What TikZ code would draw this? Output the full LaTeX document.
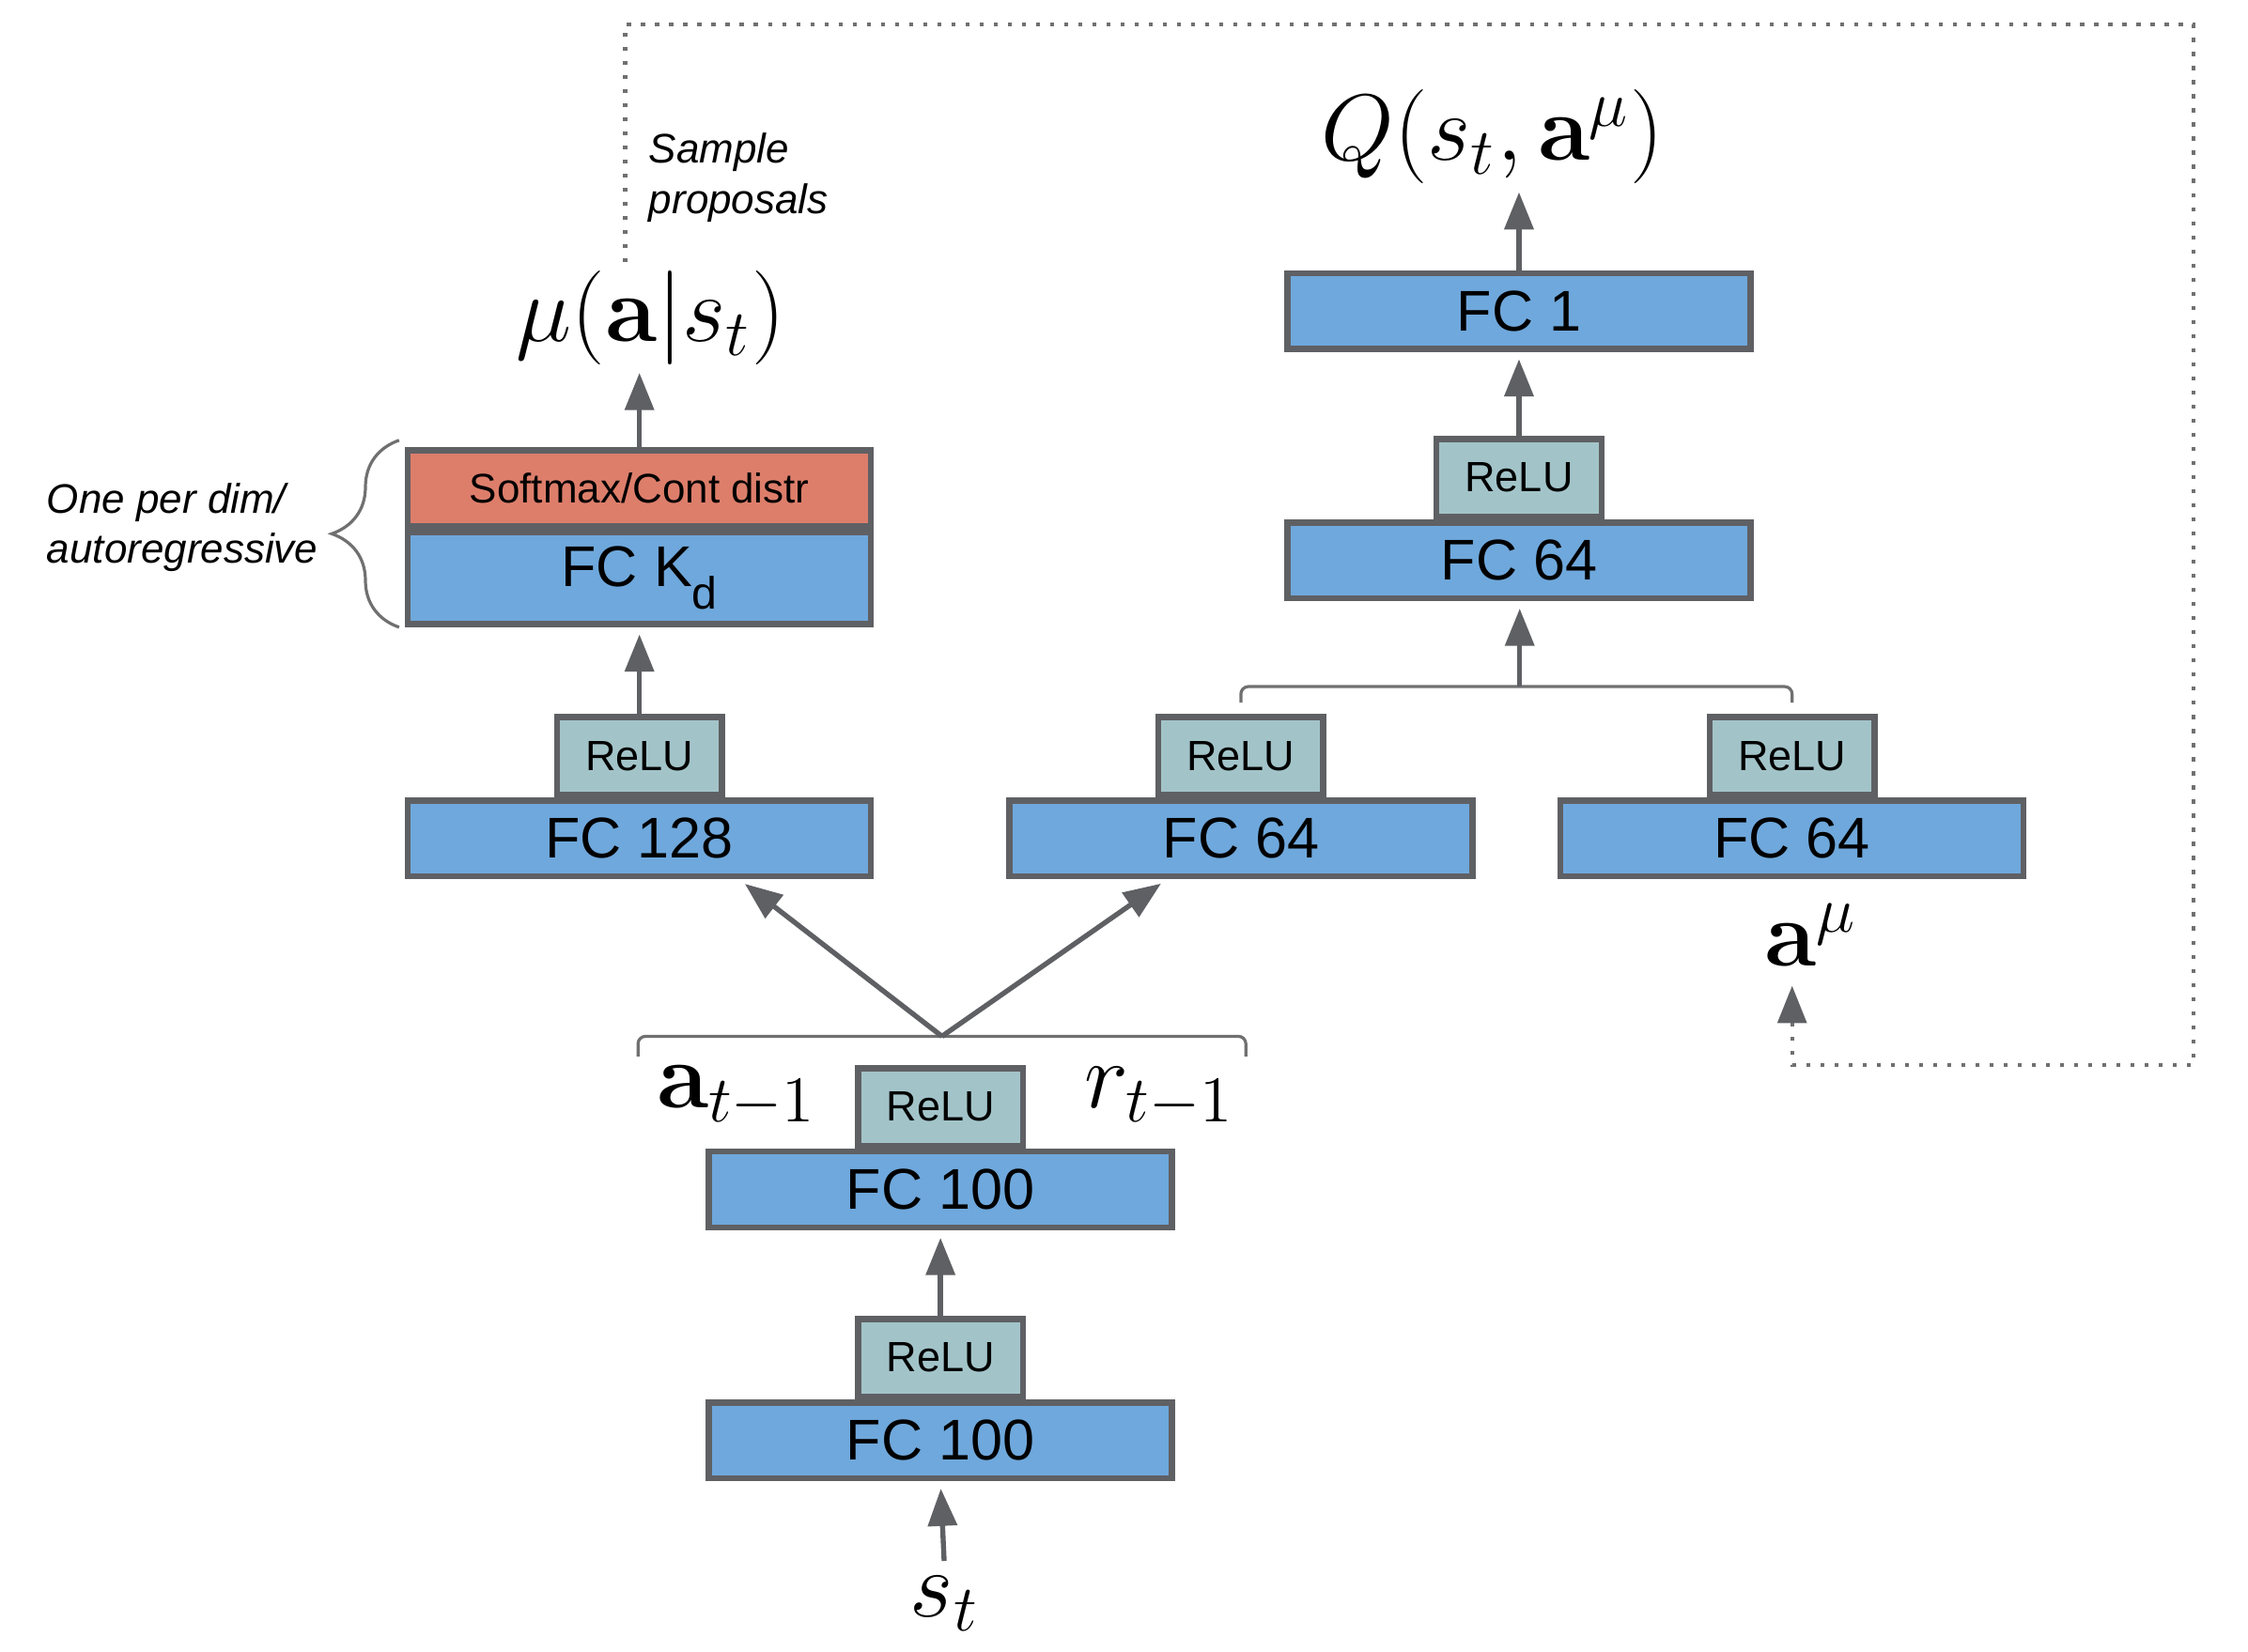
\documentclass[tikz,border=0pt]{standalone}
\usepackage{amsmath}
\usepackage[no-math]{fontspec}
\setmainfont{Liberation Sans}
\usetikzlibrary{arrows.meta,positioning,decorations.pathreplacing}

\definecolor{layerblue}{HTML}{6FA8DC}
\definecolor{softred}{HTML}{DD7E6B}
\definecolor{relugreen}{HTML}{A2C4C9}
\definecolor{edgegray}{HTML}{5F6064}
\definecolor{linegray}{HTML}{707070}

\begin{document}
\begin{tikzpicture}[
        layer/.style={
            draw=edgegray,
            fill=layerblue,
            line width=1.2pt,
            minimum width=3.23cm,
            minimum height=0.53cm,
            inner sep=0pt,
            font=\fontsize{11.4}{13}\selectfont
        },
        relu/.style={
            layer,
            fill=relugreen,
            minimum width=1.15cm,
            minimum height=0.54cm,
            font=\fontsize{8.4}{10}\selectfont
        },
        distr/.style={
            layer,
            fill=softred,
            minimum height=0.53cm,
            font=\fontsize{8.2}{10}\selectfont
        },
        var/.style={inner sep=0pt, scale=1.08,
            font=\fontsize{17.28}{20}\selectfont},
        note/.style={inner sep=0pt, align=left,
            font=\fontsize{8.2}{10}\selectfont\itshape},
        flow/.style={-{Triangle[length=2.6mm, width=2mm]}, line width=1pt,
            draw=edgegray, shorten >=0.5mm},
        bracket/.style={draw=linegray, line width=0.6pt, rounded corners=1.5pt},
        curly/.style={draw=linegray, line width=0.6pt, decorate,
            decoration={brace, amplitude=4.7mm}},
        feedback/.style={draw=linegray, line width=0.8pt, dotted,
            -{Triangle[length=2.6mm, width=2mm, color=edgegray]},
            shorten >=1.3mm}
    ]
        \useasboundingbox (0,0) rectangle (15.68,-11.52);

        % Shared state encoder
        \node[layer] (fc100a) at (6.56,-10.05) {FC 100};
        \node[relu, above=0pt of fc100a] (relu100a) {ReLU};
        \node[layer] (fc100b) at (6.56,-8.30) {FC 100};
        \node[relu, above=0pt of fc100b] (relu100b) {ReLU};
        \node[var, anchor=base] (st) at (6.59,-11.28) {$s_t$};
        \node[var, anchor=base] (aprev) at (5.14,-7.73) {$\mathbf{a}_{t-1}$};
        \node[var, anchor=base] (rprev) at (8.09,-7.73) {$r_{t-1}$};
        \coordinate (fork) at (6.57,-7.23);

        % Policy head
        \node[layer] (fc128) at (4.46,-5.85) {FC 128};
        \node[relu, above=0pt of fc128] (relu128) {ReLU};
        \node[layer, minimum height=0.64cm] (fckd) at (4.46,-4.035)
            {FC K\raisebox{-4.5pt}{\fontsize{9}{9}\selectfont d}};
        \node[distr, above=0pt of fckd] (softmax) {Softmax/Cont distr};
        \node[var, anchor=base] (mulabel) at (4.54,-2.38)
            {$\mu(\mathbf{a}|s_t)$};

        % Value head
        \node[layer] (fc64a) at (8.655,-5.85) {FC 64};
        \node[relu, above=0pt of fc64a] (relu64a) {ReLU};
        \node[layer] (fc64b) at (12.50,-5.85) {FC 64};
        \node[relu, above=0pt of fc64b] (relu64b) {ReLU};
        \node[var, anchor=base] (amu) at (12.63,-6.74) {$\mathbf{a}^{\mu}$};
        \coordinate (merge) at (10.60,-4.79);
        \node[layer] (fc64c) at (10.595,-3.91) {FC 64};
        \node[relu, above=0pt of fc64c] (relu64c) {ReLU};
        \node[layer] (fc1) at (10.595,-2.17) {FC 1};
        \node[var, anchor=base] (qlabel) at (10.41,-1.12)
            {$Q(s_t,\mathbf{a}^{\mu})$};

        % Side notes
        \node[note, anchor=west] (samplenote) at (4.52,-1.24)
            {Sample\\proposals};
        \node[note, anchor=west] (dimnote) at (0.32,-3.68)
            {One per dim/\\autoregressive};

        \draw[curly] ([xshift=-0.4mm]fckd.south west) --
            ([xshift=-0.4mm,yshift=0.5mm]softmax.north west);

        % Connections
        \draw[flow, shorten <=1mm] (st.north) -- (fc100a.south);
        \draw[flow] (relu100a.north) -- (fc100b.south);
        \draw[bracket] ([xshift=-21.2mm,yshift=-1.4mm]fork) |- (fork)
            -| ([xshift=21.2mm,yshift=-1.4mm]fork);
        \draw[flow] (fork) -- ([xshift=-9.4mm]fc128.south east);
        \draw[flow] (fork) -- ([xshift=11.2mm]fc64a.south west);
        \draw[flow] (relu128.north) -- (fckd.south);
        \draw[flow] (softmax.north) -- (softmax.north |- mulabel.south);

        \draw[bracket] ([yshift=0.8mm]relu64a.north) |- (merge)
            -| ([yshift=0.8mm]relu64b.north);
        \draw[flow] (merge) -- (merge |- fc64c.south);
        \draw[flow] (relu64c.north) -- (fc1.south);
        \draw[flow] (fc1.north) -- (fc1.north |- qlabel.south);

        % Proposals fed back to the critic
        \coordinate (loopNE) at (15.30,-0.17);
        \coordinate (loopSE) at (15.30,-7.43);
        \draw[feedback] ([xshift=-1.8mm,yshift=0.5mm]mulabel.north) |- (loopNE)
            -- (loopSE) -| ([xshift=-1.3mm]amu.south);
    \end{tikzpicture}
\end{document}
